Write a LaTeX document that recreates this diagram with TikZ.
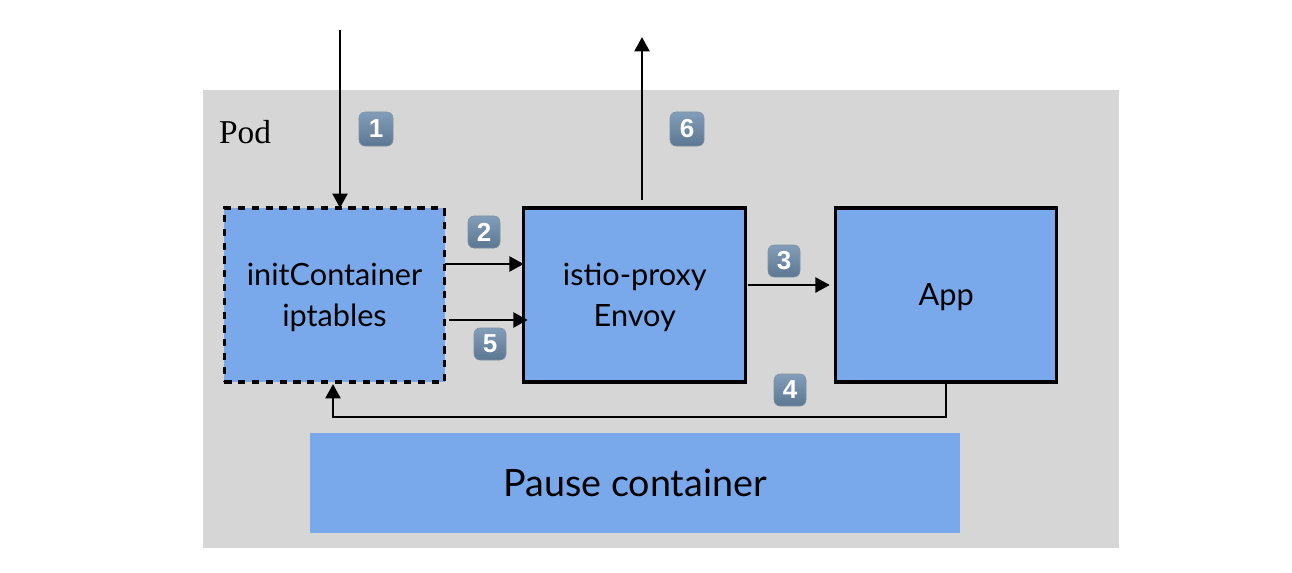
\documentclass[tikz,border=0pt]{standalone}
\usepackage{fontspec}
\setmainfont{Lato}
\newfontfamily\podfont{Liberation Serif}
\newfontfamily\badgefont{Liberation Sans}[Scale=1.0]
\usetikzlibrary{arrows.meta,positioning}
\definecolor{podgray}{HTML}{D6D6D6}
\definecolor{boxblue}{HTML}{7AA9EB}

\begin{document}
\begin{tikzpicture}[
  x=0.025cm, y=-0.025cm,
  box/.style={draw, line width=2.2pt, fill=boxblue, outer sep=0pt, align=center, font=\fontsize{21.8}{29}\selectfont, text depth=0pt, minimum width=5.55cm, minimum height=4.35cm, inner sep=0pt},
  dashbox/.style={box, minimum width=5.5cm, dash pattern=on 0.18cm off 0.165cm},
  arr/.style={line width=2.1pt, -{Triangle[length=3.6mm,width=3.7mm]}},
  badge/.style={draw=#1!70!black!70, line width=0.4pt, rounded corners=1.5mm, top color=#1!85!white, bottom color=#1!85!black, text=white, font=\badgefont\bfseries\fontsize{18.5}{18.5}\selectfont, minimum size=0.8cm, inner sep=0pt},
  badge/.default={badgeblue}
]
\definecolor{badgeblue}{HTML}{6C8CAC}
\useasboundingbox (0,0) rectangle (1292,572);
\node[fill=podgray, minimum width=22.9cm, minimum height=11.45cm, inner sep=0pt, outer sep=0pt] (pod) at (661,319) {};
\node[font=\podfont\fontsize{23.7}{23.7}\selectfont, inner sep=0pt] (podlabel) at (245,132) {Pod};
\node[dashbox] (init) at (334.5,295) {initContainer\\iptables};
\node[box, right=1.98cm of init] (proxy) {istio-proxy\\Envoy};
\node[box, minimum width=5.52cm, right=2.25cm of proxy] (app) {App};
\node[fill=boxblue, minimum width=16.25cm, minimum height=2.5cm, outer sep=0pt, inner sep=0pt, font=\fontsize{26.8}{26.8}\selectfont] (pause) at (635,483) {Pause container};
\node[badge, minimum size=0.85cm] (one) at (376,129) {1};
\node[badge] (two) at (484,232) {2};
\node[badge] (three) at (784,261) {3};
\node[badge] (four) at (790,390) {4};
\node[badge] (five) at (490,344) {5};
\node[badge, minimum size=0.85cm] (six) at (687,129) {6};
\coordinate (intop) at (340,30);
\coordinate (outtop) at (642,37);
\draw[arr] (intop) -- (intop |- init.north);
\draw[arr] ([yshift=0.2cm]proxy.north -| outtop) -- (outtop);
\draw[arr] (init.east |- 0,264) -- (proxy.west |- 0,264);
\draw[arr] ([xshift=0.12cm]init.east |- 0,320) -- ([xshift=0.1cm]proxy.west |- 0,320);
\draw[arr] ([xshift=0.05cm]proxy.east |- 0,285) -- ([xshift=-0.15cm]app.west |- 0,285);
\draw[arr] (app.south -| 946,0) |- (333,417) -- ([yshift=-0.05cm]init.south -| 333,0);
\end{tikzpicture}
\end{document}
